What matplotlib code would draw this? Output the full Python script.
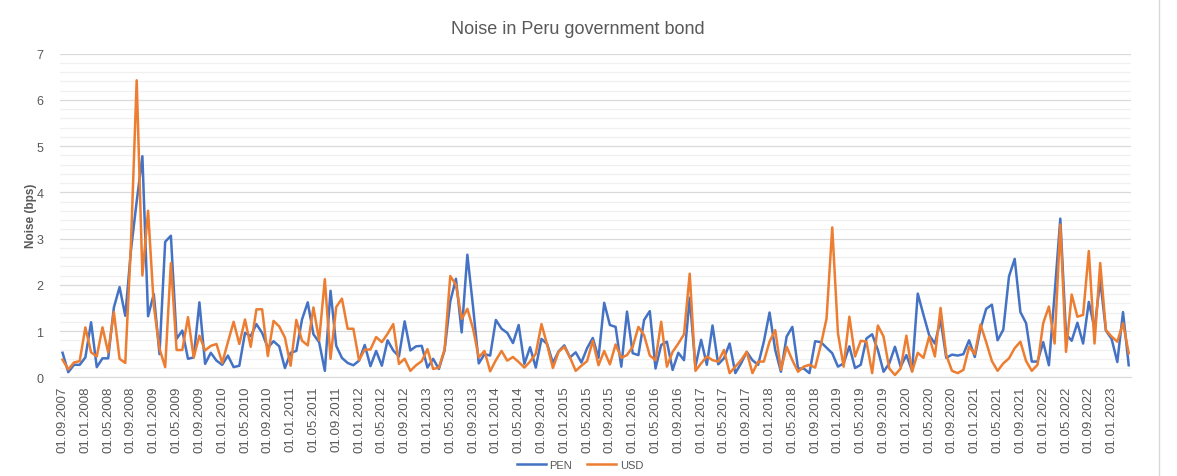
import matplotlib
matplotlib.use("Agg")
import matplotlib.pyplot as plt
from matplotlib.ticker import MultipleLocator
from matplotlib.lines import Line2D
import numpy as np
import pandas as pd

# Monthly observations, September 2007 onwards
months = pd.date_range("2007-09-01", periods=188, freq="MS")
tick_labels = [d.strftime("%d.%m.%Y") for d in months[::4]]

# Noise in bps, local-currency (PEN) bonds
pen = [
    0.53, 0.11, 0.27, 0.27, 0.43, 1.19, 0.22, 0.41, 0.41, 1.51,
    1.95, 1.33, 2.75, 3.80, 4.78, 1.32, 1.80, 0.50, 2.93, 3.06,
    0.83, 1.01, 0.40, 0.43, 1.62, 0.29, 0.53, 0.36, 0.27, 0.47,
    0.22, 0.25, 0.96, 0.89, 1.15, 0.96, 0.64, 0.78, 0.67, 0.20,
    0.53, 0.57, 1.25, 1.62, 0.93, 0.76, 0.14, 1.87, 0.68, 0.42,
    0.31, 0.26, 0.36, 0.70, 0.24, 0.57, 0.25, 0.80, 0.58, 0.45,
    1.21, 0.58, 0.67, 0.68, 0.21, 0.40, 0.18, 0.58, 1.64, 2.13,
    0.97, 2.65, 1.52, 0.30, 0.50, 0.47, 1.24, 1.05, 0.96, 0.74,
    1.13, 0.29, 0.65, 0.21, 0.83, 0.72, 0.31, 0.56, 0.69, 0.43,
    0.54, 0.32, 0.63, 0.85, 0.42, 1.61, 1.13, 1.09, 0.23, 1.42,
    0.52, 0.48, 1.24, 1.43, 0.19, 0.70, 0.77, 0.16, 0.53, 0.37,
    1.72, 0.23, 0.81, 0.27, 1.12, 0.28, 0.41, 0.73, 0.09, 0.30,
    0.55, 0.37, 0.27, 0.77, 1.40, 0.59, 0.12, 0.88, 1.09, 0.19,
    0.19, 0.09, 0.78, 0.76, 0.64, 0.52, 0.23, 0.30, 0.67, 0.20,
    0.27, 0.84, 0.93, 0.59, 0.12, 0.30, 0.66, 0.23, 0.48, 0.14,
    1.81, 1.35, 0.91, 0.73, 1.24, 0.42, 0.49, 0.47, 0.50, 0.80,
    0.44, 1.05, 1.48, 1.57, 0.80, 1.03, 2.18, 2.56, 1.41, 1.17,
    0.34, 0.34, 0.76, 0.26, 1.80, 3.43, 0.93, 0.79, 1.18, 0.73,
    1.63, 1.05, 2.10, 1.01, 0.83, 0.33, 1.41, 0.26,
]

# Noise in bps, dollar-denominated (USD) bonds
usd = [
    0.38, 0.17, 0.32, 0.35, 1.08, 0.54, 0.45, 1.08, 0.54, 1.41,
    0.40, 0.31, 2.90, 6.42, 2.20, 3.60, 1.55, 0.62, 0.22, 2.47,
    0.59, 0.59, 1.30, 0.43, 0.90, 0.58, 0.68, 0.72, 0.31, 0.76,
    1.20, 0.72, 1.25, 0.66, 1.47, 1.47, 0.46, 1.22, 1.10, 0.86,
    0.25, 1.24, 0.79, 0.69, 1.51, 0.80, 2.12, 0.40, 1.52, 1.70,
    1.05, 1.05, 0.37, 0.60, 0.60, 0.87, 0.76, 0.94, 1.15, 0.29,
    0.40, 0.14, 0.26, 0.35, 0.61, 0.18, 0.21, 0.60, 2.19, 2.00,
    1.26, 1.48, 1.05, 0.43, 0.57, 0.13, 0.37, 0.57, 0.36, 0.44,
    0.33, 0.21, 0.34, 0.51, 1.15, 0.70, 0.20, 0.55, 0.66, 0.43,
    0.14, 0.25, 0.35, 0.79, 0.26, 0.57, 0.28, 0.71, 0.42, 0.48,
    0.66, 1.09, 0.91, 0.47, 0.37, 1.20, 0.23, 0.55, 0.73, 0.93,
    2.24, 0.14, 0.30, 0.45, 0.37, 0.34, 0.59, 0.09, 0.23, 0.37,
    0.55, 0.09, 0.34, 0.34, 0.77, 1.02, 0.16, 0.66, 0.37, 0.12,
    0.23, 0.27, 0.21, 0.70, 1.27, 3.24, 0.95, 0.23, 1.31, 0.45,
    0.79, 0.77, 0.09, 1.12, 0.88, 0.19, 0.05, 0.19, 0.90, 0.12,
    0.53, 0.42, 0.88, 0.45, 1.50, 0.48, 0.14, 0.09, 0.16, 0.66,
    0.50, 1.14, 0.76, 0.35, 0.14, 0.30, 0.41, 0.63, 0.77, 0.35,
    0.14, 0.27, 1.17, 1.53, 0.73, 3.30, 0.55, 1.79, 1.31, 1.35,
    2.73, 0.73, 2.47, 1.02, 0.88, 0.77, 1.17, 0.52,
]

TEXT = "#595959"
BLUE = "#4472C4"
ORANGE = "#ED7D31"

plt.rcParams["font.family"] = ["Liberation Sans", "DejaVu Sans"]

W, H = 1177, 477
fig = plt.figure(figsize=(W / 100, H / 100), dpi=100)
fig.patch.set_facecolor("white")

left, right, y0, y7 = 60, 1131, 378.3, 54.5
ax = fig.add_axes([left / W, 1 - y0 / H, (right - left) / W, (y0 - y7) / H])

x = np.arange(len(months))
ax.plot(x, pen, color=BLUE, lw=1.8, label="PEN", solid_joinstyle="round", zorder=3)
ax.plot(x, usd, color=ORANGE, lw=1.8, label="USD", solid_joinstyle="round", zorder=4)

ax.set_ylim(0, 7)
ax.set_xlim(-0.45, len(months) - 0.6)
ax.yaxis.set_major_locator(MultipleLocator(1))
ax.yaxis.set_minor_locator(MultipleLocator(0.2))
ax.grid(which="major", axis="y", color="#d9d9d9", lw=0.9)
ax.grid(which="minor", axis="y", color="#f0f0f0", lw=0.9)
ax.grid(which="major", axis="x", visible=False)
ax.set_axisbelow(True)

for side in ("top", "right", "left"):
    ax.spines[side].set_visible(False)
ax.spines["bottom"].set_color("#d9d9d9")

ax.set_xticks(x[::4])
ax.set_xticklabels(tick_labels, rotation=90, fontsize=9.5, color=TEXT)
ax.tick_params(axis="both", which="both", length=0)
ax.tick_params(axis="x", pad=6)
ax.tick_params(axis="y", labelsize=9, labelcolor=TEXT, pad=12)

fig.text(578 / W, 1 - 30 / H, "Noise in Peru government bond",
         ha="center", va="center", fontsize=13, color=TEXT)
fig.text(31 / W, 1 - 216 / H, "Noise (bps)", rotation=90,
         ha="center", va="center", fontsize=8.5, fontweight="bold", color=TEXT)

leg = fig.legend(loc="center", bbox_to_anchor=(580 / W, 1 - 466 / H), ncol=2,
                 frameon=False, fontsize=8, handlelength=2.6,
                 handletextpad=0.3, columnspacing=1.4)
for t in leg.get_texts():
    t.set_color(TEXT)

fig.add_artist(Line2D([1159 / W, 1159 / W], [0, 1], color="#d9d9d9", lw=1))

fig.savefig("out.png", dpi=100)
